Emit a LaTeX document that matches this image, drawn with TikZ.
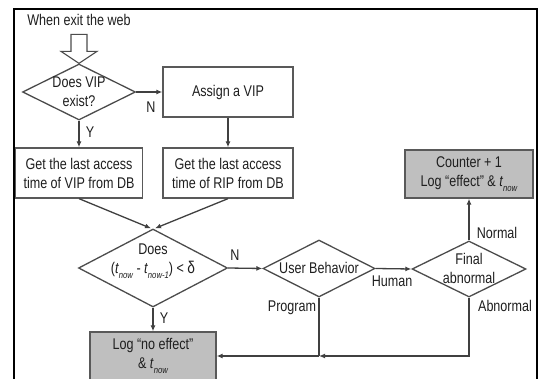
\documentclass[tikz,border=0pt]{standalone}
\usepackage{fontspec}
\setmainfont[FakeStretch=0.81]{Liberation Sans}
\usetikzlibrary{arrows.meta,shapes.geometric,calc}

% italic t with an italic subscript
\newcommand\tidx[1]{{\itshape t}\kern0.3pt\raisebox{-0.55ex}{\fontsize{9.5}{9.5}\selectfont\itshape #1}}

\begin{document}
\begin{tikzpicture}[x=1pt,y=-1pt,
  every node/.style={font=\fontsize{15.5}{19}\selectfont, text=black!88},
  box/.style={draw=black!65, line width=1.3pt, minimum width=#1,
    minimum height=50pt, inner sep=0pt, align=center},
  grey/.style={fill=black!25},
  dia/.style 2 args={diamond, draw=black!70, line width=1.3pt, inner sep=0pt,
    minimum width=#1, minimum height=#2},
  txt/.style={align=center, inner sep=0pt},
  arr/.style={draw=black!75, line width=1.3pt, -{Latex[length=6pt,width=5pt]}},
  ln/.style={draw=black!75, line width=1.3pt}
]
\useasboundingbox (0,0) rectangle (545,379);
\clip (0,0) rectangle (545,379);
\fill[white] (0,0) rectangle (545,379);

% outer frame
\draw[line width=2.2pt] (14,9) rectangle (537,395);

% start and first decision
\node[txt] (start) at (79,20) {When exit the web};
\node[dia={113pt}{56pt}] (d1) at (79,92) {};
\node[txt] (d1t) at (79,92) {Does VIP\\exist?};

% hollow arrow into the first decision
\draw[draw=black!70, line width=1.1pt, fill=white]
  (d1.north) -- ++(-18,-12) -- ++(10,0) -- ++(0,-17) -- ++(16,0)
  -- ++(0,17) -- ++(10,0) -- cycle;

% boxes
\node[box=130pt] (assign) at (228,92) {Assign a VIP};
\node[box=127pt] (b1) at (79,173) {Get the last access\\time of VIP from DB};
\node[box=130pt] (b2) at (228,173) {Get the last access\\time of RIP from DB};
\node[box=128pt, grey, minimum height=48pt] (cnt) at (469,174)
  {Counter + 1\\Log “effect” \& \tidx{now}};
\node[box=126pt, grey, minimum height=48pt] (log) at (153,356)
  {Log “no effect”\\\& \tidx{now}};

% remaining decisions
\node[dia={149pt}{78pt}] (d2) at (153,268) {};
\node[txt] (d2t) at (153,261) {Does\\(\tidx{now} - \tidx{now-1}) <\ {\fontsize{17}{19}\selectfont δ}};
\node[dia={112pt}{57pt}] (d3) at (319,268.5) {};
\node[txt] (d3t) at (319,268) {User Behavior};
\node[dia={114pt}{56pt}] (d4) at (469,269) {};
\node[txt] (d4t) at (469,268) {Final\\abnormal};

% connectors
\draw[arr] (d1.east) -- (assign.west);
\draw[arr] (d1.south) -- (b1.north);
\draw[arr] (assign.south) -- (b2.north);
\draw[arr] (b1.south) -- ([xshift=-2pt]d2.north);
\draw[arr] (b2.south) -- ([xshift=2pt]d2.north);
\draw[arr] (d2.east) -- (d3.west);
\draw[arr] (d3.east) -- (d4.west);
\draw[arr] (d4.north) -- (cnt.south);
\draw[arr] (d2.south) -- (log.north);
\coordinate (j) at (d3.south |- log.east);
\draw[arr] (d4.south) |- (j);
\draw[ln] (d3.south) -- (j);
\draw[arr] (j) -- (log.east);

% branch labels
\node[txt] (n1) at (151,107) {N};
\node[txt] (y1) at (90,132) {Y};
\node[txt] (n2) at (235,255) {N};
\node[txt] (y2) at (164,318) {Y};
\node[txt] (hum) at (392,281) {Human};
\node[txt] (prg) at (292,308) {Program};
\node[txt] (nrm) at (497,233) {Normal};
\node[txt] (abn) at (505,306) {Abnormal};
\end{tikzpicture}
\end{document}
